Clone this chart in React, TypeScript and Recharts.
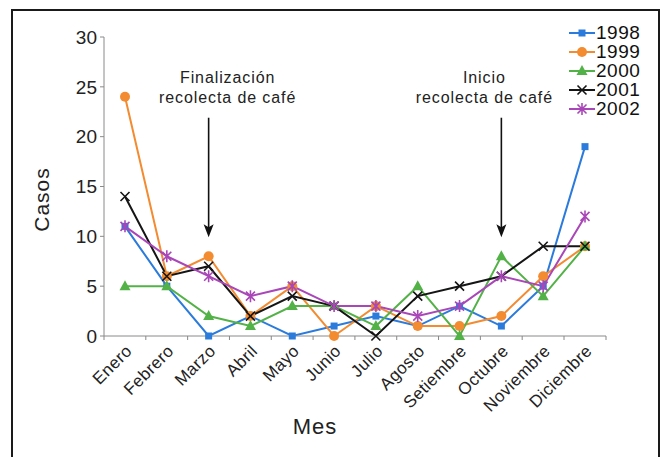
import React from "react";
import {
  LineChart,
  Line,
  XAxis,
  YAxis,
  Legend,
  Label,
  ReferenceLine,
  ReferenceDot,
} from "recharts";

// Casos por mes, 1998-2002
const months = [
  "Enero",
  "Febrero",
  "Marzo",
  "Abril",
  "Mayo",
  "Junio",
  "Julio",
  "Agosto",
  "Setiembre",
  "Octubre",
  "Noviembre",
  "Diciembre",
];
const cases1998 = [11, 5, 0, 2, 0, 1, 2, 1, 3, 1, 5, 19];
const cases1999 = [24, 6, 8, 2, 5, 0, 3, 1, 1, 2, 6, 9];
const cases2000 = [5, 5, 2, 1, 3, 3, 1, 5, 0, 8, 4, 9];
const cases2001 = [14, 6, 7, 2, 4, 3, 0, 4, 5, 6, 9, 9];
const cases2002 = [11, 8, 6, 4, 5, 3, 3, 2, 3, 6, 5, 12];
const yTicks = [0, 5, 10, 15, 20, 25, 30];

const data = months.map((m, i) => ({
  month: m,
  y1998: cases1998[i],
  y1999: cases1999[i],
  y2000: cases2000[i],
  y2001: cases2001[i],
  y2002: cases2002[i],
}));

const series = [
  { key: "y1998", name: "1998", color: "#2b7bdc", kind: "square" },
  { key: "y1999", name: "1999", color: "#f38b30", kind: "circle" },
  { key: "y2000", name: "2000", color: "#53b247", kind: "triangle" },
  { key: "y2001", name: "2001", color: "#151515", kind: "cross" },
  { key: "y2002", name: "2002", color: "#a946b8", kind: "star" },
];

// anotaciones de la cosecha
const notes = [
  { month: "Marzo", lines: ["Finalización", "recolecta de café"], dx: 19 },
  { month: "Octubre", lines: ["Inicio", "recolecta de café"], dx: -17 },
];

const FONT = "'Liberation Sans', Arial, sans-serif";

function Marker({ kind, cx, cy, color }: any) {
  if (cx == null || cy == null) return null;
  switch (kind) {
    case "square":
      return <rect x={cx - 3.5} y={cy - 3.5} width={7} height={7} fill={color} />;
    case "circle":
      return <circle cx={cx} cy={cy} r={5} fill={color} />;
    case "triangle":
      return (
        <path
          d={`M${cx},${cy - 6}L${cx + 5.5},${cy + 4}L${cx - 5.5},${cy + 4}Z`}
          fill={color}
        />
      );
    case "cross":
      return (
        <path
          d={`M${cx - 4.5},${cy - 4.5}L${cx + 4.5},${cy + 4.5}M${cx - 4.5},${cy + 4.5}L${cx + 4.5},${cy - 4.5}`}
          stroke={color}
          strokeWidth={1.6}
          fill="none"
        />
      );
    default:
      return (
        <path
          d={`M${cx - 4.5},${cy - 4.5}L${cx + 4.5},${cy + 4.5}M${cx - 4.5},${cy + 4.5}L${cx + 4.5},${cy - 4.5}M${cx},${cy - 6}L${cx},${cy + 6}`}
          stroke={color}
          strokeWidth={1.6}
          fill="none"
        />
      );
  }
}

function MonthTick(props: any) {
  const { x, y, payload, index } = props;
  const half = 21;
  return (
    <g>
      <line x1={x - half} y1={y} x2={x - half} y2={y + 4} stroke="#888" />
      {index === months.length - 1 && (
        <line x1={x + half} y1={y} x2={x + half} y2={y + 4} stroke="#888" />
      )}
      <text
        x={x + 8}
        y={y + 16}
        transform={`rotate(-45, ${x + 8}, ${y + 16})`}
        textAnchor="end"
        fontSize={17}
        fontFamily={FONT}
        fill="#222"
        letterSpacing={0.4}
      >
        {payload.value}
      </text>
    </g>
  );
}

function LegendBox({ payload }: any) {
  return (
    <div style={{ fontFamily: FONT, fontSize: 19, color: "#111", letterSpacing: 0.5 }}>
      {(payload || []).map((p: any) => {
        const s = series.find((x) => x.name === p.value);
        return (
          <div key={p.value} style={{ display: "flex", alignItems: "center", height: 19 }}>
            <svg width={28} height={16}>
              <line x1={1} y1={8} x2={27} y2={8} stroke={p.color} strokeWidth={2} />
              <Marker kind={s?.kind} cx={14} cy={8} color={p.color} />
            </svg>
            <span style={{ lineHeight: "19px" }}>{p.value}</span>
          </div>
        );
      })}
    </div>
  );
}

export default function App() {
  return (
    <div
      style={{
        position: "absolute",
        left: 0,
        top: 0,
        width: 663,
        height: 457,
        overflow: "hidden",
        background: "#fff",
      }}
    >
      <div
        style={{
          position: "absolute",
          left: 11,
          top: 9,
          width: 645,
          height: 470,
          border: "2px solid #1a1a1a",
        }}
      />
      <LineChart
        width={663}
        height={457}
        data={data}
        margin={{ top: 37, right: 57, left: 44, bottom: 21 }}
        style={{ position: "absolute", left: 0, top: 0 }}
      >
        <XAxis
          dataKey="month"
          interval={0}
          padding={{ left: 21, right: 21 }}
          height={100}
          stroke="#8a8a8a"
          tickLine={false}
          tickSize={0}
          tickMargin={0}
          tick={<MonthTick />}
        >
          <Label
            content={({ viewBox }: any) => (
              <text
                x={viewBox.x + viewBox.width / 2 - 40}
                y={434}
                textAnchor="middle"
                fontSize={22}
                fontFamily={FONT}
                letterSpacing={1}
                fill="#222"
              >
                Mes
              </text>
            )}
          />
        </XAxis>
        <YAxis
          domain={[0, 30]}
          ticks={yTicks}
          width={60}
          stroke="#8a8a8a"
          tickSize={4}
          tickMargin={3}
          tick={{ fontSize: 19, fill: "#222", fontFamily: FONT }}
        >
          <Label
            content={({ viewBox }: any) => {
              const cx = 41;
              const cy = viewBox.y + viewBox.height / 2 + 13;
              return (
                <text
                  x={cx}
                  y={cy}
                  transform={`rotate(-90, ${cx}, ${cy})`}
                  textAnchor="middle"
                  dominantBaseline="central"
                  fontSize={21}
                  fontFamily={FONT}
                  letterSpacing={1}
                  fill="#222"
                >
                  Casos
                </text>
              );
            }}
          />
        </YAxis>
        <Legend
          layout="vertical"
          align="center"
          verticalAlign="middle"
          wrapperStyle={{ left: 568, top: 23, width: 90 }}
          content={<LegendBox />}
        />
        {notes.map((n) => (
          <ReferenceLine
            key={n.month + "-shaft"}
            segment={[
              { x: n.month, y: 21.9 },
              { x: n.month, y: 10.8 },
            ]}
            stroke="#111"
            strokeWidth={1.6}
          />
        ))}
        {notes.map((n) => (
          <ReferenceDot
            key={n.month + "-head"}
            x={n.month}
            y={9.9}
            r={0}
            shape={(p: any) => (
              <path
                d={`M${p.cx},${p.cy}L${p.cx - 5},${p.cy - 13}L${p.cx},${p.cy - 10}L${p.cx + 5},${p.cy - 13}Z`}
                fill="#111"
              />
            )}
          />
        ))}
        {notes.map((n) => (
          <ReferenceDot
            key={n.month + "-text"}
            x={n.month}
            y={26}
            r={0}
            shape={(p: any) => (
              <text
                x={p.cx + n.dx}
                y={p.cy}
                textAnchor="middle"
                fontSize={16}
                fontFamily={FONT}
                letterSpacing={0.9}
                fill="#222"
              >
                {n.lines.map((t, i) => (
                  <tspan key={i} x={p.cx + n.dx} dy={i === 0 ? 6 : 20}>
                    {t}
                  </tspan>
                ))}
              </text>
            )}
          />
        ))}
        {series.map((s) => (
          <Line
            key={s.key}
            type="linear"
            dataKey={s.key}
            name={s.name}
            stroke={s.color}
            strokeWidth={2}
            isAnimationActive={false}
            dot={(p: any) => (
              <Marker key={s.key + p.index} kind={s.kind} cx={p.cx} cy={p.cy} color={s.color} />
            )}
            activeDot={false}
          />
        ))}
      </LineChart>
    </div>
  );
}
